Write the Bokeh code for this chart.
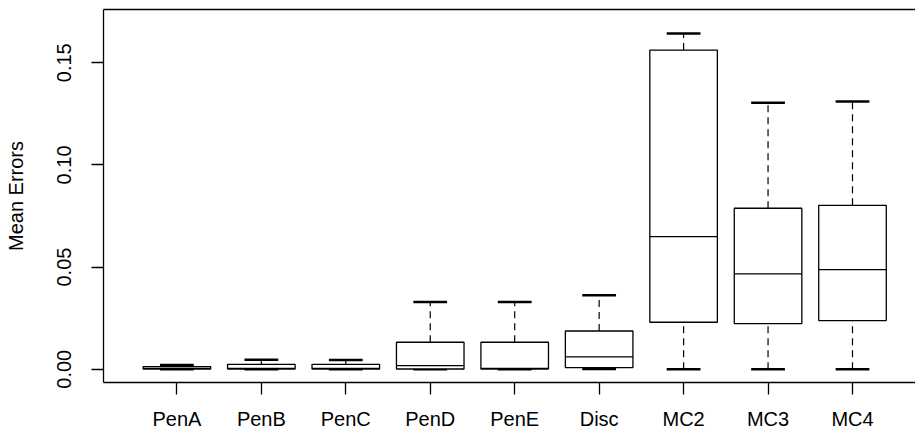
from bokeh.plotting import figure
from bokeh.models import ColumnDataSource, FixedTicker, LinearAxis, Range1d, NumeralTickFormatter
from bokeh.transform import dodge
from bokeh.embed import file_html
from bokeh.resources import INLINE

categories = ["PenA", "PenB", "PenC", "PenD", "PenE", "Disc", "MC2", "MC3", "MC4"]
lower = [0.0, 0.0, 0.0, 0.0, 0.0, 0.0001, 0.0, 0.0, 0.0]
q1 = [0.0001, 0.0001, 0.0001, 0.0001, 0.0001, 0.0008, 0.0230, 0.0223, 0.0238]
median = [0.0004, 0.0004, 0.0004, 0.0018, 0.0004, 0.0060, 0.0649, 0.0467, 0.0487]
q3 = [0.0013, 0.0024, 0.0024, 0.0132, 0.0132, 0.0187, 0.1562, 0.0788, 0.0802]
upper = [0.0021, 0.0046, 0.0045, 0.0329, 0.0329, 0.0362, 0.1643, 0.1304, 0.1311]
y_ticks = [0.0, 0.05, 0.10, 0.15]

positions = list(range(1, len(categories) + 1))
src = ColumnDataSource(dict(x=positions, lower=lower, q1=q1, median=median, q3=q3, upper=upper))

FONT = "Liberation Sans"
FS = "20px"

p = figure(width=915, height=432, output_backend="svg", toolbar_location=None,
           x_range=Range1d(0.131, 9.746), y_range=Range1d(-0.0065, 0.17607),
           min_border_left=103, min_border_right=0, min_border_top=9, min_border_bottom=50)
p.outline_line_color = None
p.grid.visible = False
p.background_fill_color = "white"
p.border_fill_color = "white"

BOX_W = 0.8
CAP_HALF = 0.2
MED_HALF = 0.4

# whiskers
p.segment(x0="x", y0="q3", x1="x", y1="upper", source=src, line_color="black",
          line_width=1.2, line_dash="7 5")
p.segment(x0="x", y0="lower", x1="x", y1="q1", source=src, line_color="black",
          line_width=1.2, line_dash="7 5")
# caps
p.segment(x0=dodge("x", -CAP_HALF), y0="upper", x1=dodge("x", CAP_HALF), y1="upper",
          source=src, line_color="black", line_width=2.5)
p.segment(x0=dodge("x", -CAP_HALF), y0="lower", x1=dodge("x", CAP_HALF), y1="lower",
          source=src, line_color="black", line_width=2.5)
# boxes
p.vbar(x="x", width=BOX_W, bottom="q1", top="q3", source=src, fill_color="white",
       line_color="black", line_width=1.3)
# medians
p.segment(x0=dodge("x", -MED_HALF), y0="median", x1=dodge("x", MED_HALF), y1="median",
          source=src, line_color="black", line_width=1.3)

# x axis
xa = p.xaxis[0]
xa.ticker = FixedTicker(ticks=positions)
xa.major_label_overrides = {i: c for i, c in zip(positions, categories)}
# y axis
ya = p.yaxis[0]
ya.ticker = FixedTicker(ticks=y_ticks)
ya.formatter = NumeralTickFormatter(format="0.00")
ya.major_label_orientation = "vertical"
ya.axis_label = "Mean Errors"
ya.axis_label_text_font = FONT
ya.axis_label_text_font_size = FS
ya.axis_label_text_font_style = "normal"
ya.axis_label_text_color = "black"
ya.axis_label_standoff = 28

for ax in (xa, ya):
    ax.major_tick_out = 12
    ax.major_tick_in = 0
    ax.minor_tick_line_color = None
    ax.axis_line_color = "black"
    ax.axis_line_width = 1.3
    ax.major_tick_line_color = "black"
    ax.major_tick_line_width = 1.3
    ax.major_label_text_font = FONT
    ax.major_label_text_font_size = FS
    ax.major_label_text_color = "black"
xa.major_label_standoff = 13
ya.major_label_standoff = 20

top = LinearAxis(ticker=FixedTicker(ticks=[]), major_tick_line_color=None,
                 minor_tick_line_color=None, major_label_text_font_size="0px",
                 axis_line_color="black", axis_line_width=1.3, major_label_standoff=0)
p.add_layout(top, "above")

open("out.html", "w").write(file_html(p, INLINE))
